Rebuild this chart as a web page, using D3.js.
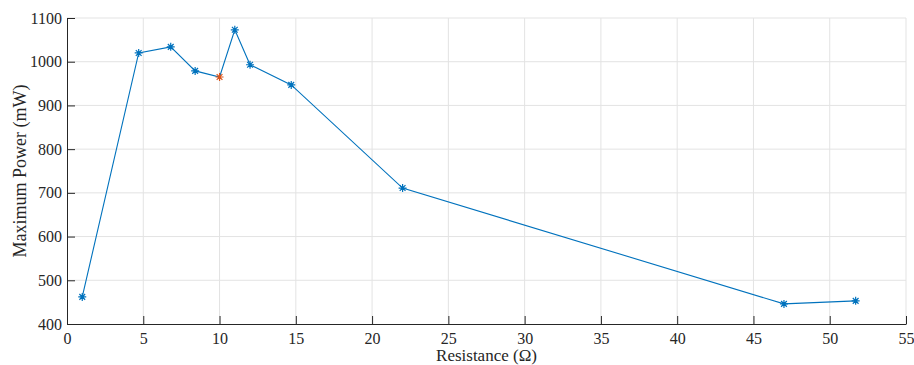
<!DOCTYPE html>
<html>
<head>
<meta charset="utf-8">
<script src="https://cdn.jsdelivr.net/npm/d3@7"></script>
<style>
body { margin: 0; background: white; }
</style>
</head>
<body>
<div id="chart"></div>
<script>
// readings from the figure
const resistance = [1, 4.7, 6.8, 8.4, 10, 11, 12, 14.7, 22, 47, 51.7]
const maxPower = [462, 1020, 1034, 979, 965, 1073, 993, 947, 711, 446, 453]
const highlightIndex = 4
const xTicks = [0, 5, 10, 15, 20, 25, 30, 35, 40, 45, 50, 55]
const yTicks = [400, 500, 600, 700, 800, 900, 1000, 1100]

const data = resistance.map((r, i) => ({r: r, p: maxPower[i], hi: i === highlightIndex}))

const FONT = "'Liberation Serif', serif"
const W = 914, H = 365
const margin = {top: 18, right: 8, bottom: 41, left: 67}
const width = W - margin.left - margin.right
const height = H - margin.top - margin.bottom

const svg = d3.select("#chart").append("svg")
    .attr("width", W)
    .attr("height", H)
  .append("g")
    .attr("transform", `translate(${margin.left},${margin.top})`)

const x = d3.scaleLinear().domain([0, 55]).range([0, width])
const y = d3.scaleLinear().domain([400, 1100]).range([height, 0])

// grid
svg.append("g")
    .selectAll("line")
    .data(xTicks.slice(1))
    .join("line")
        .attr("x1", d => x(d)).attr("x2", d => x(d))
        .attr("y1", 0).attr("y2", height)
        .attr("stroke", "#e3e3e3")
svg.append("g")
    .selectAll("line")
    .data(yTicks.slice(1))
    .join("line")
        .attr("x1", 0).attr("x2", width)
        .attr("y1", d => y(d)).attr("y2", d => y(d))
        .attr("stroke", "#e3e3e3")

// axes, ticks pointing inward
const xAx = d3.axisBottom(x).tickValues(xTicks).tickFormat(d3.format("d"))
    .tickSizeInner(-8).tickSizeOuter(0).tickPadding(6)
const yAx = d3.axisLeft(y).tickValues(yTicks).tickFormat(d3.format("d"))
    .tickSizeInner(-8).tickSizeOuter(0).tickPadding(5)

const xGroup = svg.append("g")
    .attr("transform", `translate(0,${height})`)
    .call(xAx)
const yGroup = svg.append("g").call(yAx)

for (const g of [xGroup, yGroup]) {
  g.attr("font-family", FONT).attr("font-size", 16)
  g.select(".domain").attr("stroke", "#262626").attr("stroke-width", 1)
  g.selectAll(".tick line").attr("stroke", "#262626")
  g.selectAll(".tick text").attr("fill", "#262626")
}
xGroup.selectAll(".tick text").attr("dy", "0.85em")
yGroup.selectAll(".tick text").attr("dy", "0.32em")

// axis titles
svg.append("text")
    .attr("x", width / 2)
    .attr("y", height + 37)
    .attr("text-anchor", "middle")
    .attr("fill", "#262626")
    .attr("font-family", FONT)
    .attr("font-size", 17)
    .text("Resistance (Ω)")

svg.append("text")
    .attr("transform", `translate(${-41},${height / 2}) rotate(-90)`)
    .attr("text-anchor", "middle")
    .attr("fill", "#262626")
    .attr("font-family", FONT)
    .attr("font-size", 18)
    .text("Maximum Power (mW)")

// line
const line = d3.line()
    .x(d => x(d.r))
    .y(d => y(d.p))

svg.append("path")
    .datum(data)
    .attr("fill", "none")
    .attr("stroke", "#0072BD")
    .attr("stroke-width", 1.1)
    .attr("d", line)

// asterisk markers
const s = 4
const star = `M${-s},0L${s},0M0,${-s}L0,${s}M${-s * 0.72},${-s * 0.72}L${s * 0.72},${s * 0.72}M${-s * 0.72},${s * 0.72}L${s * 0.72},${-s * 0.72}`

svg.selectAll(".marker")
    .data(data)
    .join("path")
        .attr("class", "marker")
        .attr("transform", d => `translate(${x(d.r)},${y(d.p)})`)
        .attr("d", star)
        .attr("fill", "none")
        .attr("stroke", d => d.hi ? "#D95319" : "#0072BD")
        .attr("stroke-width", 1.2)
</script>
</body>
</html>
